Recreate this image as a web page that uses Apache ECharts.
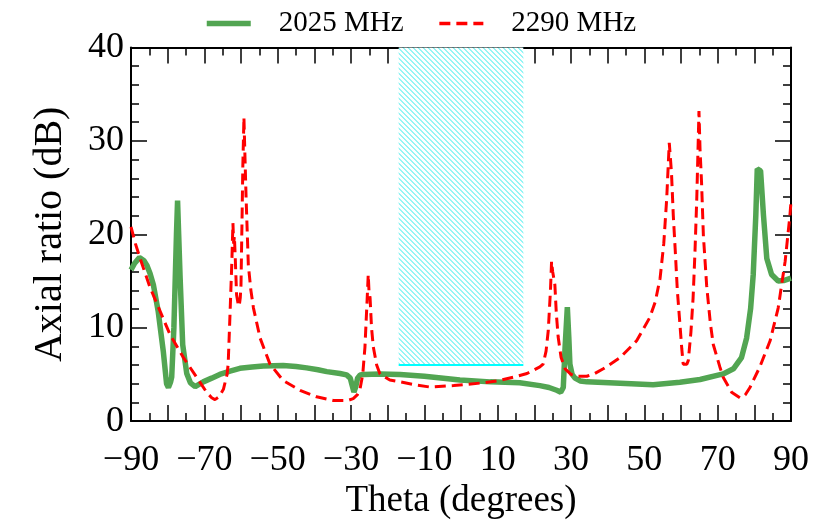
<!DOCTYPE html>
<html>
<head>
<meta charset="utf-8">
<script src="https://cdn.jsdelivr.net/npm/echarts@6/dist/echarts.min.js"></script>
<style>html,body{margin:0;padding:0;background:#fff;}#c{width:833px;height:525px;}</style>
</head>
<body>
<div id="c"></div>
<script>
// ---- data ----
var seriesNames = ['2025 MHz', '2290 MHz'];
var xTicks = [-90, -70, -50, -30, -10, 10, 30, 50, 70, 90];
var yTicks = [0, 10, 20, 30, 40];
var band = [-17, 17];      // shaded theta range
var bandFloor = 6;         // dB, bottom of shaded range

var theta2025 = [-90,-89,-87.7,-86.5,-85.7,-84.8,-83.9,-82.6,-81.2,-80.3,-79.8,-79.2,-78.9,-78.3,-77.6,-77.3,-77.0,-76.6,-75.9,-74.8,-73.8,-72.5,-70.3,-68,-65.8,-63,-60.3,-57,-53.9,-48.5,-45,-42.1,-39,-36.6,-33,-31.2,-30.2,-29.8,-29.2,-28.7,-28.2,-27.5,-26.6,-22.1,-16.6,-10,-0.3,8,16,21.5,24,26.1,27.2,27.9,28.4,29.0,29.4,29.7,30.3,31.1,32.5,34.3,43.4,52.4,59.7,65.2,71.5,74.3,76.5,77.9,79.0,79.7,80.4,80.8,81.7,82.5,83.4,84.7,86.5,88,90];
var ar2025 = [16.2,16.9,17.5,17.2,16.7,15.8,14.6,11.8,7.5,4.0,3.6,4.2,4.7,10,20,23.6,20,15.3,8.2,5.1,4.1,3.7,4.2,4.6,5.0,5.35,5.65,5.8,5.9,5.95,5.85,5.7,5.5,5.3,5.1,4.95,4.6,4.0,3.1,3.7,4.6,4.95,5.0,5.05,5.0,4.8,4.4,4.2,4.1,3.8,3.6,3.3,3.1,3.6,8,12.2,9,6.1,5.0,4.6,4.3,4.2,4.05,3.9,4.15,4.45,5.05,5.6,6.8,8.9,12.1,15.7,22.0,27.0,26.8,22.0,17.4,15.7,15.0,15.05,15.3];

var theta2290 = [-90,-88.8,-87.5,-84.8,-82.1,-79.4,-75.7,-72.1,-69.4,-68,-67.1,-66,-64.8,-63.8,-63.5,-63.0,-62.5,-62.2,-62.0,-61.8,-61.6,-61.2,-60.8,-60.5,-60.2,-60.0,-59.7,-59.5,-59.2,-58.9,-58.6,-58.0,-57.3,-56.6,-54.8,-52.1,-48.5,-43.9,-39.4,-34.8,-31,-29.4,-28.3,-27.6,-26.8,-26.2,-25.6,-25.3,-25.1,-24.8,-24.4,-23.9,-23,-22.1,-19.4,-16.6,-12,-8.5,-2,5.2,10,14.3,18,21.5,22.4,23.2,23.8,24.4,24.7,25.0,25.6,26.0,26.5,27.3,28.4,30,31.5,34.3,36.5,38.8,43.4,47.9,51.5,53,54.3,55.3,56.1,56.8,57.4,57.9,58.4,59.0,59.7,60.2,60.6,61.1,61.6,62.0,62.7,63.3,63.8,64.3,64.9,65.2,65.6,66.1,67.0,68.0,68.8,70.6,71.5,73.8,76.1,77.5,78.8,81.5,84.3,86.5,88.4,89.7,90];
var ar2290 = [20.8,19,17.4,14.3,11.8,9.3,6.8,4.7,3.1,2.5,2.3,2.6,3.4,5.0,6.1,11.4,17,21.2,19,19.8,17.8,13.5,12.6,12.3,13.2,14.6,22,27.3,32.5,28,23.8,16.7,14,12.1,8.9,6.1,4.35,3.3,2.6,2.2,2.2,2.4,2.8,3.3,5,7.9,13,15.7,14,13.2,10,7.9,6,5.05,4.4,4.2,3.85,3.65,3.8,4.07,4.3,4.7,5.1,5.8,6.1,7.5,9.7,14,17.1,16,14.6,11.5,9.0,6.8,5.6,5.0,4.8,4.8,5.1,5.6,6.8,8.6,11.1,12.8,15.3,19,23.8,29.8,26.6,22,18.5,14,10.4,7.8,6.1,5.95,6.1,6.5,9.5,13.2,18,23.8,33.2,29,25.6,19.9,14.5,10.5,8.2,5.8,4.7,3.1,2.5,2.8,3.6,5.8,8.6,12.1,17.1,22.0,23.5];

function zip(a, b) { return a.map(function (v, i) { return [v, b[i]]; }); }

// hatch pattern
var P = 5;
var pc = document.createElement('canvas');
pc.width = P; pc.height = P;
var pctx = pc.getContext('2d');
var img = pctx.createImageData(P, P);
for (var y = 0; y < P; y++) for (var x = 0; x < P; x++) {
  var k = (y * P + x) * 4;
  var d = ((x - y) % P + P) % P;
  var on = d < 2;
  img.data[k] = on ? 150 : 255; img.data[k+1] = on ? 245 : 255; img.data[k+2] = on ? 245 : 255; img.data[k+3] = 255;
}
pctx.putImageData(img, 0, 0);

var FONT = 'Liberation Serif';
var GREEN = '#52a552', RED = '#ff0000';
function fmt(v) { if ((v + 90) % 20 !== 0) return ''; return v < 0 ? '\u2212' + Math.abs(v) : String(v); }

var axisCommon = {
  axisLine: { show: true, onZero: false, lineStyle: { color: '#000', width: 2 } },
  axisTick: { show: true, inside: true, length: 16, lineStyle: { color: '#000', width: 1.5 } },
  minorTick: { show: true, length: 8, lineStyle: { color: '#000', width: 1.5 } },
  splitLine: { show: false }
};

var chart = echarts.init(document.getElementById('c'));
chart.setOption({
  animation: false,
  backgroundColor: '#fff',
  legend: {
    data: [
      { name: seriesNames[0], lineStyle: { color: GREEN, width: 5.5, type: 'solid' } },
      { name: seriesNames[1], lineStyle: { color: RED, width: 3.5, type: [11, 6] } }
    ],
    left: 199, top: 4, itemWidth: 44, itemHeight: 14, itemGap: 34,
    itemStyle: { color: 'rgba(0,0,0,0)', borderWidth: 0, opacity: 0 },
    textStyle: { fontFamily: FONT, fontSize: 29, color: '#000', padding: [0, 0, 0, 23] }
  },
  grid: { left: 131, right: 42, top: 47.5, bottom: 101 },
  xAxis: [
    Object.assign({}, axisCommon, {
      type: 'value', min: -90, max: 90, interval: 10, position: 'bottom',
      minorTick: Object.assign({}, axisCommon.minorTick, { splitNumber: 2 }),
      axisLabel: { formatter: fmt, fontFamily: FONT, fontSize: 36, color: '#000', margin: 21 },
      name: 'Theta (degrees)', nameLocation: 'middle', nameGap: 58,
      nameTextStyle: { fontFamily: FONT, fontSize: 37, color: '#000' }
    }),
    Object.assign({}, axisCommon, {
      type: 'value', min: -90, max: 90, interval: 10, position: 'top',
      minorTick: Object.assign({}, axisCommon.minorTick, { splitNumber: 2 }),
      axisLabel: { show: false }
    })
  ],
  yAxis: [
    Object.assign({}, axisCommon, {
      type: 'value', min: 0, max: 40, interval: 10, position: 'left',
      minorTick: Object.assign({}, axisCommon.minorTick, { splitNumber: 5 }),
      axisLabel: { fontFamily: FONT, fontSize: 36, color: '#000', margin: 7 },
      name: 'Axial ratio (dB)', nameLocation: 'middle', nameGap: 61,
      nameTextStyle: { fontFamily: FONT, fontSize: 40, color: '#000' }
    }),
    Object.assign({}, axisCommon, {
      type: 'value', min: 0, max: 40, interval: 10, position: 'right',
      minorTick: Object.assign({}, axisCommon.minorTick, { splitNumber: 5 }),
      axisLabel: { show: false }
    })
  ],
  series: [
    {
      name: 'band', type: 'line', data: [[band[0], bandFloor], [band[1], bandFloor]],
      symbol: 'none', lineStyle: { color: '#00ffff', width: 2 }, silent: true, z: 1,
      markArea: {
        silent: true,
        itemStyle: { color: { image: pc, repeat: 'repeat' } },
        data: [[{ coord: [band[0], bandFloor] }, { coord: [band[1], 40] }]]
      }
    },
    {
      name: seriesNames[0], type: 'line', data: zip(theta2025, ar2025), symbol: 'none', z: 3,
      itemStyle: { color: GREEN },
      lineStyle: { color: GREEN, width: 5.5 }
    },
    {
      name: seriesNames[1], type: 'line', data: zip(theta2290, ar2290), symbol: 'none', z: 4,
      itemStyle: { color: RED },
      lineStyle: { color: RED, width: 3, type: [11, 6] }
    }
  ]
});
</script>
</body>
</html>
